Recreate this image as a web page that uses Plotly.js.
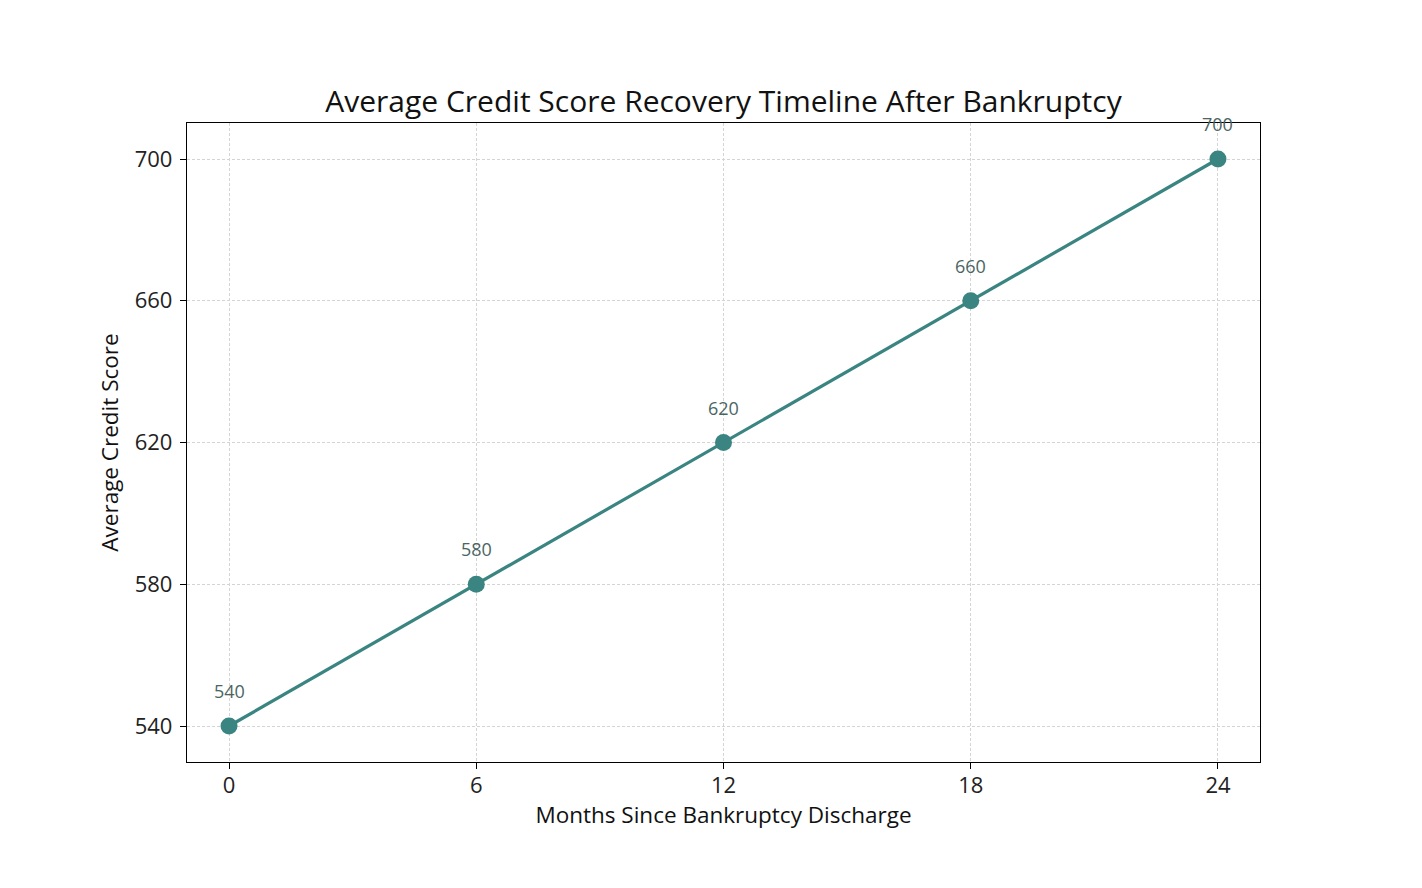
<!DOCTYPE html>
<html>
<head>
<meta charset="utf-8">
<script src="https://cdn.plot.ly/plotly-3.0.1.min.js"></script>
<style>
  html, body { margin: 0; padding: 0; background: #fff; }
  #chart { width: 1422px; height: 888px; }
</style>
</head>
<body>
<div id="chart"></div>
<script>
// Months since discharge and the average score at each checkpoint
const months = [0, 6, 12, 18, 24];
const scores = [540, 580, 620, 660, 700];
const scoreLabels = ['540', '580', '620', '660', '700'];
const yTicks = [540, 580, 620, 660, 700];

const teal = '#3a8481';
const fontFamily = '"Open Sans", sans-serif';

const trace = {
  x: months,
  y: scores,
  type: 'scatter',
  mode: 'lines+markers',
  line: { color: teal, width: 3.2 },
  marker: { color: teal, size: 17 },
  hoverinfo: 'x+y',
  cliponaxis: false
};

// Value labels floating above each point
const annotations = months.map((m, i) => ({
  x: m,
  y: scores[i],
  xref: 'x',
  yref: 'y',
  text: scoreLabels[i],
  showarrow: false,
  yshift: 35,
  font: { family: fontFamily, size: 18, color: '#4b6563' }
}));

const axisCommon = {
  showline: true,
  linecolor: '#000',
  linewidth: 1.3,
  mirror: true,
  ticks: 'outside',
  ticklen: 6,
  tickcolor: '#000',
  tickwidth: 1.2,
  showgrid: true,
  gridcolor: '#d4d4d4',
  griddash: '3px,2px',
  gridwidth: 1,
  zeroline: false,
  tickfont: { family: fontFamily, size: 22, color: '#222' }
};

const layout = {
  width: 1422,
  height: 888,
  paper_bgcolor: '#fff',
  plot_bgcolor: '#fff',
  margin: { l: 187, r: 162, t: 123, b: 126 },
  showlegend: false,
  title: {
    text: 'Average Credit Score Recovery Timeline After Bankruptcy',
    font: { family: fontFamily, size: 30, color: '#111' },
    x: 0.5,
    xref: 'paper',
    xanchor: 'center',
    y: 1 - 101 / 888,
    yref: 'container',
    yanchor: 'middle'
  },
  xaxis: Object.assign({}, axisCommon, {
    range: [-1.02, 25.02],
    tickvals: months,
    ticktext: months.map(String),
    ticklabelstandoff: -3,
    title: { text: 'Months Since Bankruptcy Discharge', font: { family: fontFamily, size: 22.5, color: '#111' }, standoff: 0 }
  }),
  yaxis: Object.assign({}, axisCommon, {
    range: [529.84, 710.16],
    tickvals: yTicks,
    ticktext: yTicks.map(String),
    ticklabelstandoff: 3,
    title: { text: 'Average Credit Score', font: { family: fontFamily, size: 22.5, color: '#111' }, standoff: 9 }
  }),
  annotations: annotations
};

Plotly.newPlot('chart', [trace], layout, { displayModeBar: false, responsive: false });
</script>
</body>
</html>
